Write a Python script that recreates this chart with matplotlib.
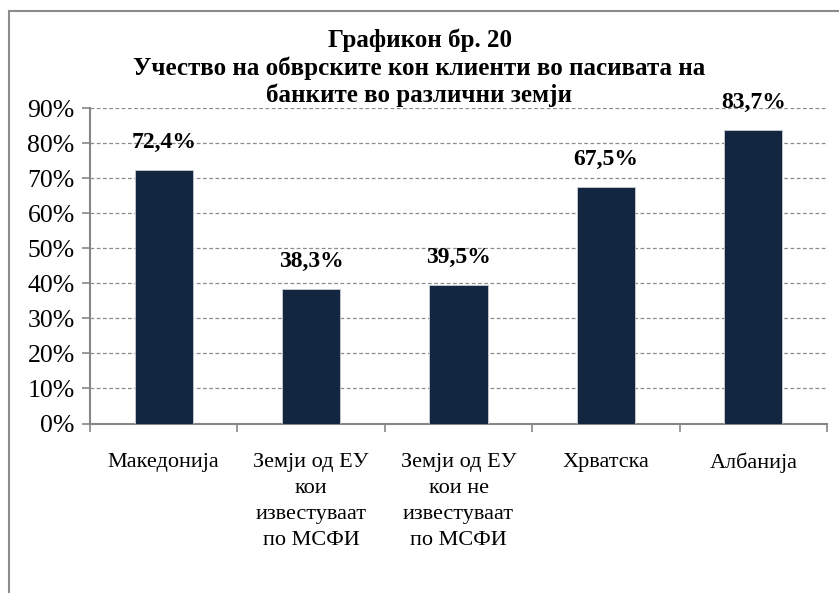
import matplotlib.pyplot as plt
from matplotlib.patches import Rectangle

# data
kategorii = ["Македонија", "Земји од ЕУ\nкои\nизвестуваат\nпо МСФИ",
             "Земји од ЕУ\nкои не\nизвестуваат\nпо МСФИ", "Хрватска", "Албанија"]
vrednosti = [72.4, 38.3, 39.5, 67.5, 83.7]
oznaki = ["72,4%", "38,3%", "39,5%", "67,5%", "83,7%"]
y_ticks = [0, 10, 20, 30, 40, 50, 60, 70, 80, 90]

plt.rcParams['font.family'] = ['Liberation Serif', 'DejaVu Serif']

fig = plt.figure(figsize=(8.39, 5.93), dpi=100)
ax = fig.add_axes([0.1073, 0.2858, 0.8784, 0.5316])

# outer chart border
fig.patches.append(Rectangle((9 / 839, -0.05), 1.1, 1 - 11 / 593 + 0.05,
                             transform=fig.transFigure, fill=False,
                             edgecolor='#8c8c8c', linewidth=1.5))

x = range(len(vrednosti))
ax.bar(x, vrednosti, width=0.395, color='#13263f', edgecolor='#c8ccd4',
       linewidth=0.6, zorder=3)

for xi, v, t in zip(x, vrednosti, oznaki):
    ax.annotate(t, (xi, v), xytext=(0, 16), textcoords='offset points',
                ha='center', va='baseline', fontsize=17, fontweight='bold')

ax.set_xlim(-0.5, len(vrednosti) - 0.5)
ax.set_ylim(0, 90)
ax.set_yticks(y_ticks)
ax.set_yticklabels([f"{t}%" for t in y_ticks], fontsize=18.5)
ax.yaxis.grid(True, linestyle=(0, (3, 2)), color='#8c8c8c', linewidth=0.9, zorder=0)

ax.set_xticks([i + 0.5 for i in range(-1, len(vrednosti))])
ax.set_xticklabels([])
ax.tick_params(axis='x', length=6, color='#868686', width=1.2)
ax.tick_params(axis='y', length=6, color='#868686', width=1.2, pad=5)
for i, k in enumerate(kategorii):
    ax.text(i, -8.3, k, ha='center', va='top', fontsize=16, linespacing=1.5,
            transform=ax.transData)

for s in ['top', 'right']:
    ax.spines[s].set_visible(False)
for s in ['left', 'bottom']:
    ax.spines[s].set_color('#868686')
    ax.spines[s].set_linewidth(1.5)

fig.text(0.5, 1 - 68 / 593, "Графикон бр. 20\nУчество на обврските кон клиенти во пасивата на\nбанките во различни земји",
         ha='center', va='center', fontsize=18, fontweight='bold', linespacing=1.22)

plt.savefig("out.png", dpi=100)
